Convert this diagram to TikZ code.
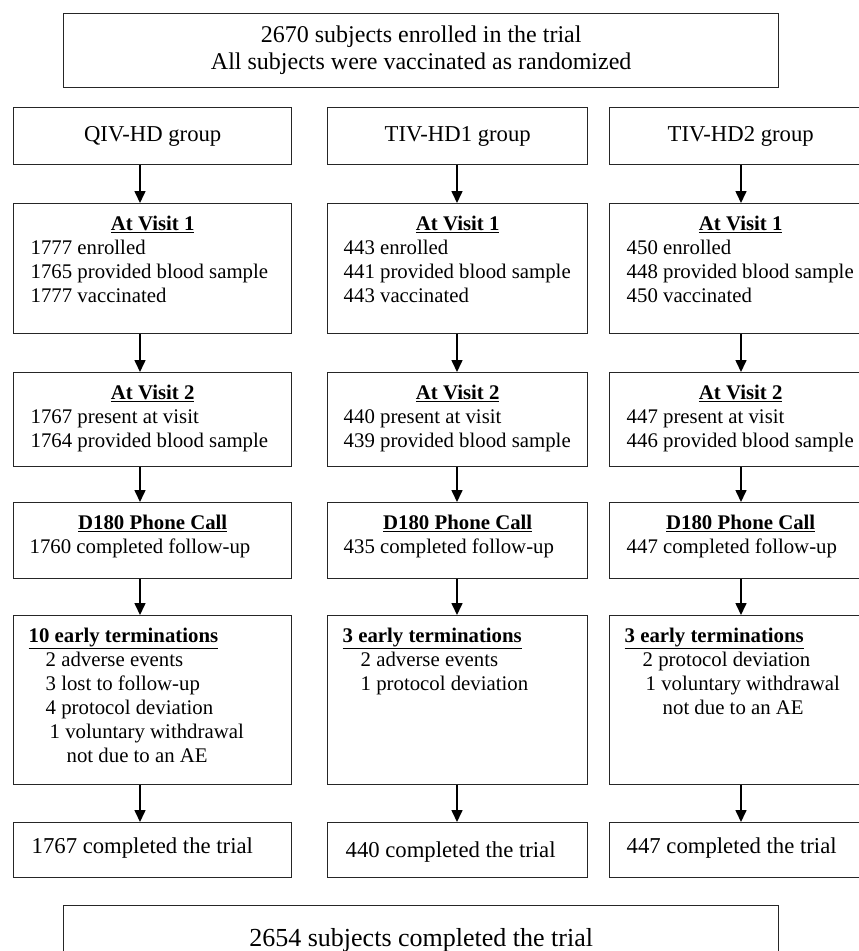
\documentclass[tikz,border=0pt]{standalone}
\usepackage{fontspec}
\setmainfont{Liberation Serif}
\usetikzlibrary{arrows.meta}

\newcommand{\ctcell}[3]{\parbox[t][#2][t]{#1}{#3}}
\newcommand{\cthead}[1]{{\centering\rule{0pt}{27pt}\underline{\textbf{#1}}\par}}
\newcommand{\ctterm}[1]{\hspace*{15pt}\rule{0pt}{27pt}\underline{\textbf{#1}}\par}
\newcommand{\ctline}[2]{\hspace*{#1}#2\par}

\tikzset{
  ctbox/.style={draw=black!85, line width=1.4pt, inner sep=0pt, anchor=north west,
    font=\fontsize{20.8pt}{24pt}\selectfont},
  cthdr/.style={ctbox, align=center, font=\fontsize{22.7pt}{26.5pt}\selectfont},
  ctarrow/.style={line width=1.6pt, -{Triangle[width=11pt,length=12pt]}}
}

\begin{document}
\begin{tikzpicture}[x=1pt, y=-1pt]
\useasboundingbox (0,0) rectangle (859,951);
\clip (0,0) rectangle (859,951);

\node[cthdr, minimum width=715pt, minimum height=74pt, font=\fontsize{24pt}{27pt}\selectfont] (enrol) at (63,13)
  {2670 subjects enrolled in the trial\\All subjects were vaccinated as randomized};

% groups
\node[cthdr, minimum width=278pt, minimum height=57pt] (qgrp) at (13,107) {QIV-HD group};
\node[cthdr, minimum width=260pt, minimum height=57pt] (t1grp) at (327,107) {TIV-HD1 group};
\node[cthdr, minimum width=262pt, minimum height=57pt] (t2grp) at (609,107) {TIV-HD2 group};

% visit 1
\node[ctbox] (qv1) at (13,203) {\ctcell{278pt}{130pt}{\cthead{At Visit 1}
  \ctline{17pt}{1777 enrolled}\ctline{17pt}{1765 provided blood sample}\ctline{17pt}{1777 vaccinated}}};
\node[ctbox] (t1v1) at (327,203) {\ctcell{260pt}{130pt}{\cthead{At Visit 1}
  \ctline{16pt}{443 enrolled}\ctline{16pt}{441 provided blood sample}\ctline{16pt}{443 vaccinated}}};
\node[ctbox] (t2v1) at (609,203) {\ctcell{262pt}{130pt}{\cthead{At Visit 1}
  \ctline{17pt}{450 enrolled}\ctline{17pt}{448 provided blood sample}\ctline{17pt}{450 vaccinated}}};

% visit 2
\node[ctbox] (qv2) at (13,372) {\ctcell{278pt}{94pt}{\cthead{At Visit 2}
  \ctline{17pt}{1767 present at visit}\ctline{17pt}{1764 provided blood sample}}};
\node[ctbox] (t1v2) at (327,372) {\ctcell{260pt}{94pt}{\cthead{At Visit 2}
  \ctline{16pt}{440 present at visit}\ctline{16pt}{439 provided blood sample}}};
\node[ctbox] (t2v2) at (609,372) {\ctcell{262pt}{94pt}{\cthead{At Visit 2}
  \ctline{17pt}{447 present at visit}\ctline{17pt}{446 provided blood sample}}};

% phone call
\node[ctbox] (qcall) at (13,502) {\ctcell{278pt}{76pt}{\cthead{D180 Phone Call}
  \ctline{16pt}{1760 completed follow-up}}};
\node[ctbox] (t1call) at (327,502) {\ctcell{260pt}{76pt}{\cthead{D180 Phone Call}
  \ctline{16pt}{435 completed follow-up}}};
\node[ctbox] (t2call) at (609,502) {\ctcell{262pt}{76pt}{\cthead{D180 Phone Call}
  \ctline{17pt}{447 completed follow-up}}};

% early terminations
\node[ctbox] (qterm) at (13,615) {\ctcell{278pt}{169pt}{\ctterm{10 early terminations}
  \ctline{32pt}{2 adverse events}\ctline{32pt}{3 lost to follow-up}\ctline{32pt}{4 protocol deviation}
  \ctline{36pt}{1 voluntary withdrawal}\ctline{53pt}{not due to an AE}}};
\node[ctbox] (t1term) at (327,615) {\ctcell{260pt}{169pt}{\ctterm{3 early terminations}
  \ctline{33pt}{2 adverse events}\ctline{33pt}{1 protocol deviation}}};
\node[ctbox] (t2term) at (609,615) {\ctcell{262pt}{169pt}{\ctterm{3 early terminations}
  \ctline{33pt}{2 protocol deviation}\ctline{36pt}{1 voluntary withdrawal}\ctline{53pt}{not due to an AE}}};

% completed
\node[ctbox, font=\fontsize{22.7pt}{26.5pt}\selectfont] (qdone) at (13,822)
  {\ctcell{278pt}{55pt}{\rule{0pt}{31pt}\hspace*{18pt}1767 completed the trial}};
\node[ctbox, font=\fontsize{22.7pt}{26.5pt}\selectfont] (t1done) at (327,822)
  {\ctcell{260pt}{55pt}{\rule{0pt}{35pt}\hspace*{18pt}440 completed the trial}};
\node[ctbox, font=\fontsize{22.7pt}{26.5pt}\selectfont] (t2done) at (609,822)
  {\ctcell{262pt}{55pt}{\rule{0pt}{31pt}\hspace*{17pt}447 completed the trial}};

\node[cthdr, minimum width=715pt, minimum height=70pt, font=\fontsize{26pt}{29pt}\selectfont] (alldone) at (63,905)
  {2654 subjects completed the trial};

% arrows
\coordinate (qx) at (140,0);
\coordinate (t1x) at (457,0);
\coordinate (t2x) at (741,0);

\draw[ctarrow] (qgrp.south -| qx) -- (qv1.north -| qx);
\draw[ctarrow] (qv1.south -| qx) -- (qv2.north -| qx);
\draw[ctarrow] (qv2.south -| qx) -- (qcall.north -| qx);
\draw[ctarrow] (qcall.south -| qx) -- (qterm.north -| qx);
\draw[ctarrow] (qterm.south -| qx) -- (qdone.north -| qx);

\draw[ctarrow] (t1grp.south -| t1x) -- (t1v1.north -| t1x);
\draw[ctarrow] (t1v1.south -| t1x) -- (t1v2.north -| t1x);
\draw[ctarrow] (t1v2.south -| t1x) -- (t1call.north -| t1x);
\draw[ctarrow] (t1call.south -| t1x) -- (t1term.north -| t1x);
\draw[ctarrow] (t1term.south -| t1x) -- (t1done.north -| t1x);

\draw[ctarrow] (t2grp.south -| t2x) -- (t2v1.north -| t2x);
\draw[ctarrow] (t2v1.south -| t2x) -- (t2v2.north -| t2x);
\draw[ctarrow] (t2v2.south -| t2x) -- (t2call.north -| t2x);
\draw[ctarrow] (t2call.south -| t2x) -- (t2term.north -| t2x);
\draw[ctarrow] (t2term.south -| t2x) -- (t2done.north -| t2x);
\end{tikzpicture}
\end{document}
